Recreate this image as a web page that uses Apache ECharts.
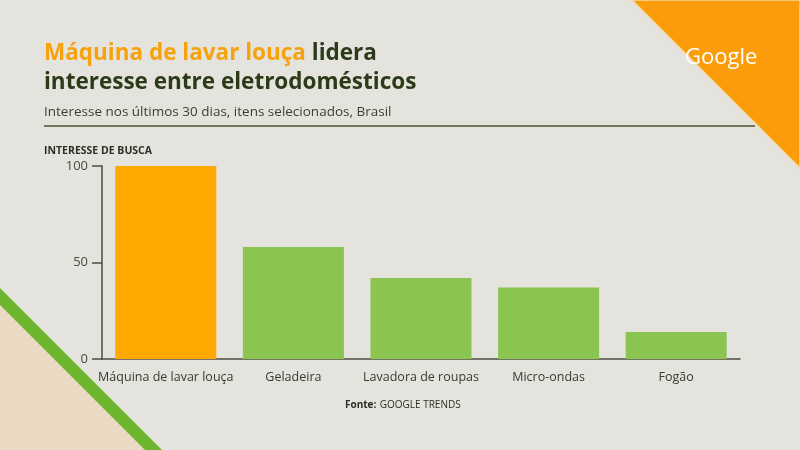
<!DOCTYPE html>
<html><head><meta charset="utf-8">
<script src="https://cdn.jsdelivr.net/npm/echarts@6/dist/echarts.min.js"></script>
<style>html,body{margin:0;padding:0;background:#e4e3de}#c{width:800px;height:450px}</style>
</head><body><div id="c"></div>
<script>
const categories = ['Máquina de lavar louça', 'Geladeira', 'Lavadora de roupas', 'Micro-ondas', 'Fogão'];
const values = [100, 58, 42, 37, 14];
const barColors = ['#fea800', '#8cc452', '#8cc452', '#8cc452', '#8cc452'];
const yTicks = [0, 50, 100];

const chart = echarts.init(document.getElementById('c'), null, {renderer: 'canvas'});
const font = '"Open Sans", Lato, sans-serif';
chart.setOption({
  backgroundColor: '#e4e3de',
  animation: false,
  grid: {left: 102, right: 60, top: 166, bottom: 91},
  xAxis: {
    type: 'category', data: categories,
    axisLine: {lineStyle: {color: '#4d4d40', width: 1.5}},
    axisTick: {alignWithLabel: true, length: 10, lineStyle: {color: '#4d4d40', width: 1.5}},
    axisLabel: {interval: 0, color: '#3a3a30', fontSize: 12.5, fontFamily: font, margin: 12}
  },
  yAxis: {
    type: 'value', min: yTicks[0], max: yTicks[2], interval: 50,
    splitLine: {show: false},
    axisLine: {show: true, lineStyle: {color: '#4d4d40', width: 1.5}},
    axisTick: {show: true, length: 10, lineStyle: {color: '#4d4d40', width: 1.5}},
    axisLabel: {color: '#4a4a40', fontSize: 13, fontFamily: font, margin: 14}
  },
  series: [{
    type: 'bar', barWidth: 101,
    data: values.map((v, i) => ({value: v, itemStyle: {color: barColors[i]}}))
  }],
  graphic: [
    {type: 'polygon', z: -1, shape: {points: [[632,0],[800,0],[800,168]]}, style: {fill: '#fb9d0a', stroke: '#f6d6a0', lineWidth: 1.5}},
    {type: 'polygon', z: -1, shape: {points: [[0,288],[162,450],[0,450]]}, style: {fill: '#6cb52f'}},
    {type: 'polygon', z: -1, shape: {points: [[0,305],[145,450],[0,450]]}, style: {fill: '#ebd9c4'}},
    {type: 'text', left: 685, top: 47, style: {text: 'Google', fill: '#ffffff', font: '22px ' + font}},
    {type: 'text', left: 44, top: 42, style: {
      text: '{o|Máquina de lavar louça }{g|lidera}\n{g|interesse entre eletrodomésticos}',
      rich: {
        o: {fill: '#f7a20c', fontSize: 22.5, fontWeight: 'bold', fontFamily: font, lineHeight: 29},
        g: {fill: '#2c3a18', fontSize: 22.5, fontWeight: 'bold', fontFamily: font, lineHeight: 29}
      }
    }},
    {type: 'text', left: 44, top: 105, style: {text: 'Interesse nos últimos 30 dias, itens selecionados, Brasil', fill: '#3e3e30', font: '13.5px ' + font}},
    {type: 'line', shape: {x1: 44, y1: 126, x2: 755, y2: 126}, style: {stroke: '#4a5530', lineWidth: 1.5}},
    {type: 'text', left: 44, top: 146, style: {text: 'INTERESSE DE BUSCA', fill: '#2e2e26', font: 'bold 10.5px ' + font}},
    {type: 'text', left: 345, top: 399, style: {
      text: '{b|Fonte:} {n|GOOGLE TRENDS}',
      rich: {b: {fontWeight: 'bold', fontSize: 10, fill: '#2e2e26', fontFamily: font}, n: {fontSize: 10, fill: '#2e2e26', fontFamily: font}}
    }}
  ]
});
</script></body></html>
